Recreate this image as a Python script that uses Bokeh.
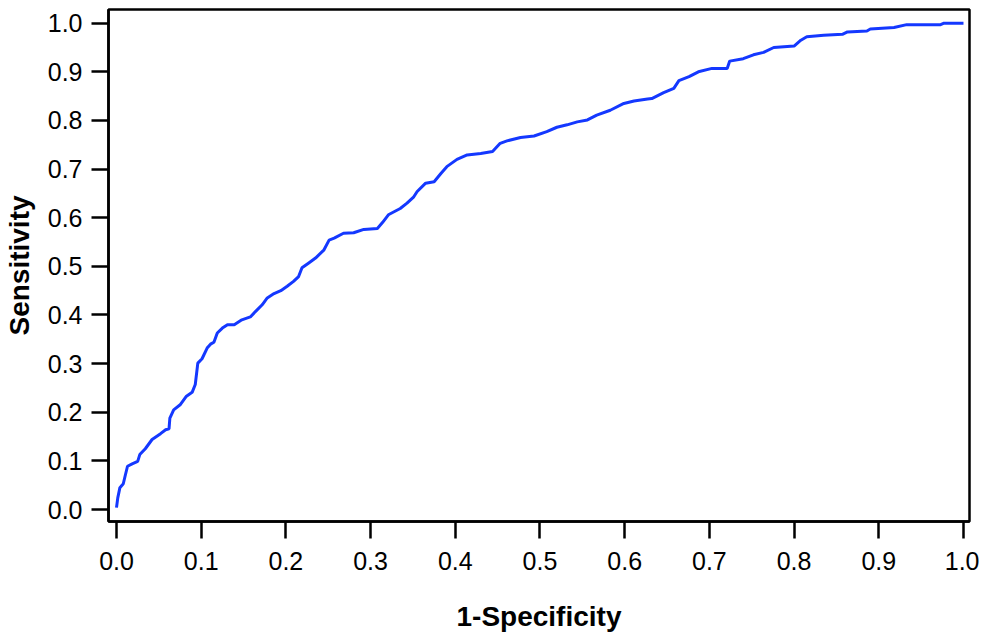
from bokeh.plotting import figure
from bokeh.models import Range1d, FixedTicker, NumeralTickFormatter
from bokeh.embed import file_html
from bokeh.resources import INLINE

# ROC curve
fpr = [0.000, 0.0015, 0.004, 0.008, 0.0106, 0.013, 0.0185, 0.025, 0.0275, 0.034,
       0.042, 0.052, 0.058, 0.062, 0.063, 0.0675, 0.0755, 0.0826, 0.0893, 0.093,
       0.096, 0.101, 0.107, 0.111, 0.115, 0.119, 0.125, 0.131, 0.139, 0.148,
       0.158, 0.164, 0.172, 0.178, 0.186, 0.194, 0.2015, 0.209, 0.215, 0.219,
       0.227, 0.235, 0.245, 0.251, 0.257, 0.268, 0.280, 0.292, 0.308, 0.314,
       0.321, 0.335, 0.343, 0.351, 0.355, 0.365, 0.375, 0.383, 0.390, 0.402,
       0.414, 0.430, 0.444, 0.453, 0.461, 0.477, 0.493, 0.508, 0.520, 0.532,
       0.544, 0.556, 0.567, 0.583, 0.599, 0.611, 0.627, 0.632, 0.646, 0.658,
       0.664, 0.676, 0.687, 0.703, 0.721, 0.724, 0.740, 0.752, 0.764, 0.776,
       0.800, 0.808, 0.815, 0.835, 0.857, 0.863, 0.886, 0.890, 0.918, 0.933,
       0.973, 0.977, 1.000]
tpr = [0.004, 0.024, 0.045, 0.053, 0.072, 0.089, 0.094, 0.099, 0.113, 0.125,
       0.144, 0.156, 0.164, 0.166, 0.188, 0.205, 0.216, 0.233, 0.241, 0.257,
       0.301, 0.310, 0.332, 0.340, 0.344, 0.363, 0.373, 0.380, 0.380, 0.390,
       0.396, 0.407, 0.421, 0.435, 0.444, 0.450, 0.459, 0.469, 0.479, 0.497,
       0.507, 0.517, 0.534, 0.554, 0.558, 0.568, 0.569, 0.576, 0.578, 0.590,
       0.606, 0.619, 0.630, 0.643, 0.654, 0.671, 0.674, 0.691, 0.705, 0.720,
       0.729, 0.732, 0.736, 0.753, 0.758, 0.765, 0.768, 0.777, 0.786, 0.791,
       0.797, 0.801, 0.811, 0.821, 0.835, 0.840, 0.844, 0.845, 0.857, 0.866,
       0.882, 0.890, 0.900, 0.907, 0.907, 0.922, 0.927, 0.935, 0.940, 0.950,
       0.953, 0.965, 0.972, 0.975, 0.977, 0.982, 0.984, 0.988, 0.991, 0.997,
       0.997, 1.000, 1.000]

x_ticks = [0.0, 0.1, 0.2, 0.3, 0.4, 0.5, 0.6, 0.7, 0.8, 0.9, 1.0]
y_ticks = [0.0, 0.1, 0.2, 0.3, 0.4, 0.5, 0.6, 0.7, 0.8, 0.9, 1.0]
x_title = "1-Specificity"
y_title = "Sensitivity"

p = figure(width=976, height=632, output_backend="svg", toolbar_location=None,
           frame_width=861, frame_height=512,
           x_range=Range1d(-0.00945, 1.0071), y_range=Range1d(-0.0246, 1.0281),
           min_border_left=108, min_border_top=9, min_border_right=10,
           min_border_bottom=105)

p.line(fpr, tpr, line_color="#1438ff", line_width=3)

p.grid.visible = False
p.outline_line_color = "black"
p.outline_line_width = 2.5
p.outline_line_alpha = 1.0
p.background_fill_color = "white"
p.border_fill_color = "white"

for ax, ticks, title in ((p.xaxis[0], x_ticks, x_title), (p.yaxis[0], y_ticks, y_title)):
    ax.ticker = FixedTicker(ticks=ticks)
    ax.formatter = NumeralTickFormatter(format="0.0")
    ax.axis_line_color = "black"
    ax.axis_line_width = 2.5
    ax.major_tick_line_color = "black"
    ax.major_tick_line_width = 2.5
    ax.major_tick_out = 17
    ax.major_tick_in = 0
    ax.minor_tick_out = 0
    ax.minor_tick_in = 0
    ax.major_label_text_font = "Liberation Sans"
    ax.major_label_text_font_size = "25px"
    ax.major_label_text_color = "black"
    ax.axis_label = title
    ax.axis_label_text_font = "Liberation Sans"
    ax.axis_label_text_font_size = "28px"
    ax.axis_label_text_font_style = "bold"
    ax.axis_label_text_color = "black"

p.yaxis[0].major_label_standoff = 9
p.yaxis[0].axis_label_standoff = 10
p.xaxis[0].major_label_standoff = 13
p.xaxis[0].axis_label_standoff = 28

open("out.html", "w").write(file_html(p, INLINE))
